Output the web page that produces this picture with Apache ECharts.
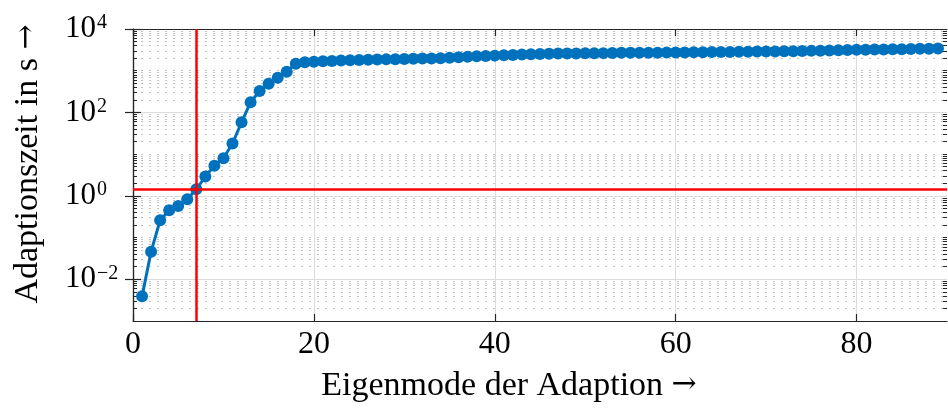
<!DOCTYPE html>
<html><head><meta charset="utf-8">
<script src="https://cdn.jsdelivr.net/npm/echarts@6/dist/echarts.min.js"></script>
<style>html,body{margin:0;padding:0;background:#fff}#c{width:948px;height:408px}</style>
</head><body><div id="c"></div>
<script>
// ---- data ----
const modes = [];
for (let i = 1; i <= 89; i++) modes.push(i);
const times = [
  0.0039, 0.046, 0.26, 0.45, 0.57, 0.83, 1.44, 2.9, 5.3, 8.0,
  18, 58, 176, 327, 490, 680, 950, 1470, 1600, 1640,
  1680, 1720, 1750, 1780, 1810, 1830, 1850, 1870, 1890, 1910,
  1930, 1950, 1970, 2000, 2040, 2100, 2160, 2210, 2250, 2300,
  2340, 2390, 2440, 2480, 2510, 2540, 2570, 2590, 2600, 2610,
  2630, 2640, 2660, 2680, 2690, 2700, 2700, 2710, 2720, 2730,
  2740, 2760, 2780, 2800, 2810, 2820, 2840, 2850, 2870, 2880,
  2900, 2920, 2940, 2960, 2990, 3020, 3050, 3090, 3130, 3170,
  3190, 3210, 3230, 3260, 3280, 3310, 3340, 3370, 3400
];
const xTicks = [0, 20, 40, 60, 80];
const yMajorTicks = [0.01, 1, 100, 10000];
const markMode = 7;
const markTime = 1.44;
const xName = 'Eigenmode der Adaption {arr|\u2192}';
const yName = 'Adaptionszeit in s {arr|\u2192}';

// minor (dotted) grid positions on the log axis
const yMinorTicks = [];
for (let k = -3; k < 4; k++) {
  for (let m = 1; m < 10; m++) {
    if (m === 1 && k % 2 === 0) continue;
    yMinorTicks.push(+(m * Math.pow(10, k)).toPrecision(3));
  }
}

const FONT = 'Liberation Serif';
const AX = '#262626';
function yFmt(v) {
  const e = Math.round(Math.log10(v));
  return '10{sup|' + (e < 0 ? '\u2212' + (-e) : e) + '}';
}
const baseY = {
  type: 'log', logBase: 10, min: 0.001, max: 10000
};
const arrowRich = { arr: { fontFamily: 'DejaVu Serif', fontSize: 30, color: '#000', padding: [0, 0, 2, 0] } };

const chart = echarts.init(document.getElementById('c'));
chart.setOption({
  animation: false,
  backgroundColor: '#fff',
  grid: { left: 133, top: 29, right: 1, bottom: 85, containLabel: false },
  xAxis: [
    {
      type: 'value', min: 0, max: 90, position: 'bottom',
      name: xName, nameLocation: 'middle', nameGap: 48,
      nameTextStyle: { fontFamily: FONT, fontSize: 34, color: '#000', padding: [0, 62, 0, 0], rich: arrowRich },
      axisLine: { show: true, lineStyle: { color: AX, width: 1.2 } },
      axisTick: { show: true, inside: true, length: 7, customValues: xTicks, lineStyle: { color: AX, width: 1.2 } },
      axisLabel: { customValues: xTicks, fontFamily: FONT, fontSize: 32, color: '#000', margin: 8 },
      splitLine: { show: true, lineStyle: { color: '#dcdcdc', width: 1 } }
    },
    {
      type: 'value', min: 0, max: 90, position: 'top',
      axisLine: { show: true, lineStyle: { color: AX, width: 1.2 } },
      axisTick: { show: true, inside: true, length: 7, customValues: xTicks, lineStyle: { color: AX, width: 1.2 } },
      axisLabel: { show: false },
      splitLine: { show: false }
    }
  ],
  yAxis: [
    Object.assign({}, baseY, {
      position: 'left',
      name: yName, nameLocation: 'middle', nameGap: 88, nameRotate: 90,
      nameTextStyle: { fontFamily: FONT, fontSize: 34, color: '#000', padding: [0, 0, 0, 22], rich: arrowRich },
      axisLine: { show: true, lineStyle: { color: AX, width: 1.2 } },
      axisTick: { show: true, inside: true, length: 8, customValues: yMajorTicks, lineStyle: { color: AX, width: 1.2 } },
      axisLabel: {
        customValues: yMajorTicks, formatter: yFmt, align: 'left', margin: 68,
        fontFamily: FONT, fontSize: 31, color: '#000', lineHeight: 32,
        rich: { sup: { fontFamily: FONT, fontSize: 20, color: '#000', verticalAlign: 'top', lineHeight: 20, padding: [0, 0, 14, 1] } }
      },
      splitLine: { show: true, lineStyle: { color: '#dcdcdc', width: 1 } }
    }),
    Object.assign({}, baseY, {
      position: 'right',
      axisLine: { show: true, lineStyle: { color: AX, width: 1.2 } },
      axisTick: { show: true, inside: true, length: 8, customValues: yMajorTicks, lineStyle: { color: AX, width: 1.2 } },
      axisLabel: { show: false },
      splitLine: { show: false }
    }),
    Object.assign({}, baseY, {
      position: 'left',
      axisLine: { show: false },
      axisTick: { show: true, inside: true, length: 4, customValues: yMinorTicks, lineStyle: { color: AX, width: 1 } },
      axisLabel: { show: false },
      splitLine: { show: true, lineStyle: { color: '#c4c4c4', width: 1, type: [2, 6] } }
    }),
    Object.assign({}, baseY, {
      position: 'right',
      axisLine: { show: false },
      axisTick: { show: true, inside: true, length: 4, customValues: yMinorTicks, lineStyle: { color: AX, width: 1 } },
      axisLabel: { show: false },
      splitLine: { show: false }
    })
  ],
  series: [{
    type: 'line',
    xAxisIndex: 0, yAxisIndex: 0,
    data: modes.map((m, i) => [m, times[i]]),
    symbol: 'circle', symbolSize: 12,
    lineStyle: { color: '#0072BD', width: 3 },
    itemStyle: { color: '#0072BD' },
    clip: false,
    markLine: {
      silent: true, symbol: 'none', animation: false,
      label: { show: false },
      lineStyle: { color: '#ff0000', width: 2.5, type: 'solid' },
      data: [{ xAxis: markMode }, { yAxis: markTime }]
    },
    z: 3
  }]
});
</script>
</body></html>
